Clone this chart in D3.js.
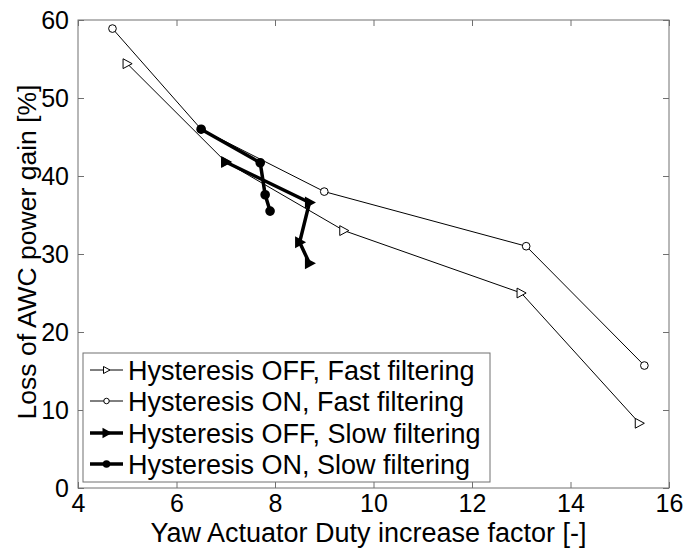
<!DOCTYPE html>
<html>
<head>
<meta charset="utf-8">
<script src="https://cdn.jsdelivr.net/npm/d3@7"></script>
<style>
	body { margin: 0; background: #fff; }
	svg text { font-family: "Liberation Sans", Arial, sans-serif; fill: #000; }
</style>
</head>
<body>
<div id="chart"></div>
<script>
// series: [duty factor, loss %]
let offFast		= [[5.0, 54.4], [7.0, 41.8], [9.4, 33.0], [13.0, 25.0], [15.4, 8.3]];
let onFast		= [[4.7, 58.9], [6.5, 46.0], [9.0, 38.0], [13.1, 31.0], [15.5, 15.7]];
let offSlow		= [[7.0, 41.8], [8.7, 36.6], [8.5, 31.5], [8.7, 28.8]];
let onSlow		= [[6.5, 46.0], [7.7, 41.7], [7.8, 37.6], [7.9, 35.5]];

let seriesNames	= ['Hysteresis OFF, Fast filtering', 'Hysteresis ON, Fast filtering',
				   'Hysteresis OFF, Slow filtering', 'Hysteresis ON, Slow filtering'];
let xTicks		= [4, 6, 8, 10, 12, 14, 16];
let yTicks		= [0, 10, 20, 30, 40, 50, 60];

let canvasWidth		= 686;
let canvasHeight	= 549;
let margin			= { top: 20, right: 17, bottom: 61, left: 78 };
let width			= canvasWidth - margin.left - margin.right;
let height			= canvasHeight - margin.top - margin.bottom;

let x = d3.scaleLinear().domain([4, 16]).range([0, width]);
let y = d3.scaleLinear().domain([0, 60]).range([height, 0]);

let svg = d3.select('#chart').append('svg')
	.attr('width', canvasWidth)
	.attr('height', canvasHeight)
	.append('g')
		.attr('transform', 'translate(' + margin.left + ',' + margin.top + ')');

let axisColor = '#707070';

// box + inward ticks on all four sides
function styleAxis(g) {
	g.select('.domain').remove();
	g.selectAll('.tick line').attr('stroke', axisColor);
	g.selectAll('.tick text').style('font-size', '25px');
}
svg.append('g').attr('transform', 'translate(0,' + height + ')')
	.call(d3.axisBottom(x).tickValues(xTicks).tickSize(-6).tickPadding(6).tickFormat(d3.format('d')))
	.call(styleAxis);
svg.append('g')
	.call(d3.axisTop(x).tickValues(xTicks).tickSize(-6).tickFormat(''))
	.call(styleAxis);
svg.append('g')
	.call(d3.axisLeft(y).tickValues(yTicks).tickSize(-6).tickPadding(9).tickFormat(d3.format('d')))
	.call(styleAxis);
svg.append('g').attr('transform', 'translate(' + width + ',0)')
	.call(d3.axisRight(y).tickValues(yTicks).tickSize(-6).tickFormat(''))
	.call(styleAxis);

svg.append('rect')
	.attr('width', width).attr('height', height)
	.attr('fill', 'none').attr('stroke', axisColor).attr('stroke-width', 1);

// markers
function triPath(s) {
	return 'M' + (-s * 0.6) + ',' + (-s * 0.7) + 'L' + (s * 0.7) + ',0L' + (-s * 0.6) + ',' + (s * 0.7) + 'Z';
}
function drawMarker(g, type, s, sw, fill) {
	if (type === 'tri') {
		g.append('path').attr('d', triPath(s));
	} else {
		g.append('circle').attr('r', s * 0.55);
	}
	g.selectAll('path, circle')
		.attr('fill', fill).attr('stroke', '#000').attr('stroke-width', sw);
}

let series = [
	{ data: offFast, marker: 'tri', lw: 1, ms: 7, msw: 1, fill: '#fff' },
	{ data: onFast, marker: 'circ', lw: 1, ms: 7, msw: 1, fill: '#fff' },
	{ data: offSlow, marker: 'tri', lw: 3.5, ms: 5.5, msw: 2.5, fill: '#000' },
	{ data: onSlow, marker: 'circ', lw: 3.5, ms: 6.5, msw: 2.5, fill: '#000' }
];

let line = d3.line().x((d) => x(d[0])).y((d) => y(d[1]));

series.forEach(function (s) {
	svg.append('path')
		.datum(s.data)
		.attr('d', line)
		.attr('fill', 'none')
		.attr('stroke', '#000')
		.attr('stroke-width', s.lw)
		.attr('stroke-linejoin', 'round');
	svg.selectAll(null)
		.data(s.data).enter().append('g')
			.attr('transform', (d) => 'translate(' + x(d[0]) + ',' + y(d[1]) + ')')
			.each(function () { drawMarker(d3.select(this), s.marker, s.ms, s.msw, s.fill); });
});

// legend
let legend = svg.append('g').attr('transform', 'translate(5,333)');
legend.append('rect')
	.attr('width', 407).attr('height', 129)
	.attr('fill', '#fff').attr('stroke', axisColor).attr('stroke-width', 1);

let rowY = [17, 48, 80, 111];
series.forEach(function (s, i) {
	let row = legend.append('g').attr('transform', 'translate(0,' + rowY[i] + ')');
	row.append('line')
		.attr('x1', 7).attr('x2', 40)
		.attr('stroke', '#000').attr('stroke-width', s.lw);
	let m = row.append('g').attr('transform', 'translate(23.5,0)');
	drawMarker(m, s.marker, 5, s.lw > 1 ? 2 : 1, s.fill);
	row.append('text')
		.attr('x', 45).attr('y', 10)
		.style('font-size', '27px')
		.text(seriesNames[i]);
});

// axis titles
svg.append('text')
	.attr('x', width / 2 - 5).attr('y', height + 54)
	.attr('text-anchor', 'middle')
	.style('font-size', '27px')
	.text('Yaw Actuator Duty increase factor [-]');

svg.append('text')
	.attr('transform', 'translate(-42,' + (height / 2 - 2) + ') rotate(-90)')
	.attr('text-anchor', 'middle')
	.style('font-size', '26.5px')
	.text('Loss of AWC power gain [%]');
</script>
</body>
</html>
